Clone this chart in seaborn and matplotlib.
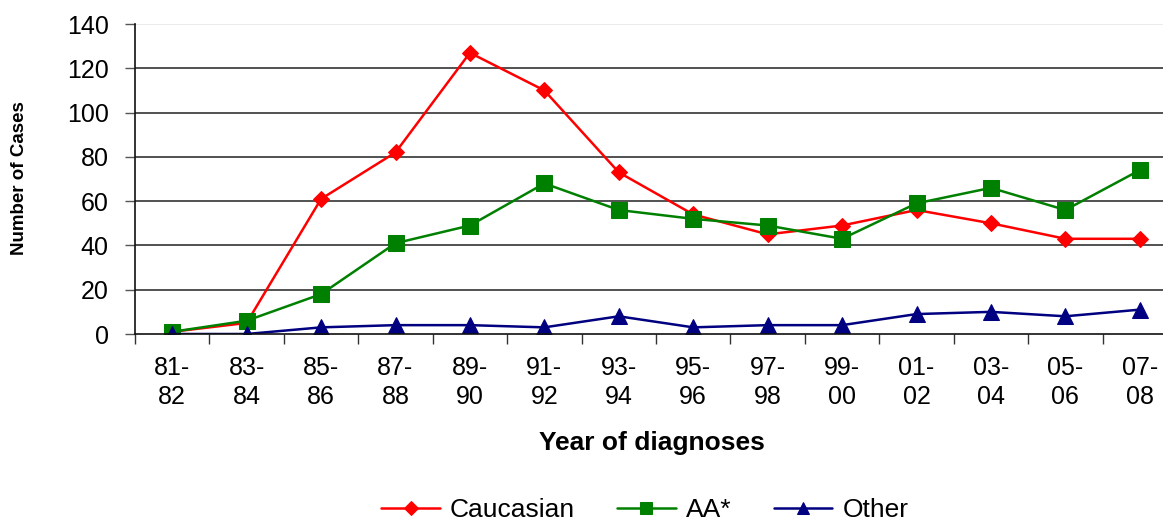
import matplotlib
matplotlib.use("Agg")
import matplotlib.pyplot as plt
import seaborn as sns
import pandas as pd

periods = ["81-\n82", "83-\n84", "85-\n86", "87-\n88", "89-\n90", "91-\n92", "93-\n94",
           "95-\n96", "97-\n98", "99-\n00", "01-\n02", "03-\n04", "05-\n06", "07-\n08"]
caucasian = [1, 5, 61, 82, 127, 110, 73, 54, 45, 49, 56, 50, 43, 43]
aa = [1, 6, 18, 41, 49, 68, 56, 52, 49, 43, 59, 66, 56, 74]
other = [0, 0, 3, 4, 4, 3, 8, 3, 4, 4, 9, 10, 8, 11]
series_names = ["Caucasian", "AA*", "Other"]

sns.set_style("white")
plt.rcParams['font.family'] = ['Liberation Sans', 'DejaVu Sans']
plt.rcParams['text.color'] = 'black'
plt.rcParams['axes.labelcolor'] = 'black'
plt.rcParams['xtick.color'] = 'black'
plt.rcParams['ytick.color'] = 'black'

fig = plt.figure(figsize=(11.63, 5.21), dpi=100)
ax = fig.add_axes([135 / 1163, (521 - 334) / 521, 1042 / 1163, 310 / 521])

x = list(range(len(periods)))
df = pd.DataFrame({"x": x * 3,
                   "y": caucasian + aa + other,
                   "s": [series_names[0]] * 14 + [series_names[1]] * 14 + [series_names[2]] * 14})

styles = {
    "Caucasian": dict(color="#FF0000", marker="D", markersize=8),
    "AA*": dict(color="#008000", marker="s", markersize=11),
    "Other": dict(color="#000080", marker="^", markersize=11),
}
for name in series_names:
    sub = df[df["s"] == name]
    st = styles[name]
    sns.lineplot(data=sub, x="x", y="y", ax=ax, color=st["color"], marker=st["marker"],
                 markersize=st["markersize"], markeredgecolor=st["color"], linewidth=1.8,
                 label=name, legend=False)

ax.set_xlim(-0.5, 13.5)
ax.set_ylim(0, 140)
ax.set_yticks(range(0, 141, 20))
ax.set_yticklabels([str(v) for v in range(0, 141, 20)], fontsize=18)
for v in range(20, 121, 20):
    ax.axhline(v, color="#333333", linewidth=1.2, zorder=0)
ax.axhline(140, color="#e8e8e8", linewidth=1.2, zorder=0)

ax.set_xticks(x)
ax.set_xticklabels(periods, fontsize=18, linespacing=1.25)
ax.set_xticks([i - 0.5 for i in range(15)], minor=True)
ax.tick_params(axis="x", which="major", length=0, pad=16, labelcolor="black")
ax.tick_params(axis="x", which="minor", length=7, width=1, color="#333333", direction="out", bottom=True)
ax.tick_params(axis="y", length=7, width=1, color="#555555", direction="out", left=True, pad=12,
               labelcolor="black")

for sp in ["top", "right"]:
    ax.spines[sp].set_visible(False)
for sp in ["left", "bottom"]:
    ax.spines[sp].set_color("#111111")
    ax.spines[sp].set_linewidth(1.2)

ax.set_xlabel("Year of diagnoses", fontsize=19, fontweight="bold", color="black")
ax.set_ylabel("Number of Cases", fontsize=13.5, fontweight="bold", color="black")
ax.xaxis.set_label_coords((652 - 135) / 1042, -(443 - 334) / 310)
ax.yaxis.set_label_coords((20 - 135) / 1042, (334 - 178) / 310)
ax.xaxis.label.set_va("center")
ax.yaxis.label.set_va("center")

handles, labels = ax.get_legend_handles_labels()
leg = fig.legend(handles, labels, loc="center", bbox_to_anchor=(645 / 1163, 1 - 510 / 521),
                 ncol=3, frameon=False, fontsize=19, handlelength=2.2, columnspacing=1.6,
                 handletextpad=0.4, markerscale=0.85)
for t in leg.get_texts():
    t.set_color("black")

fig.savefig("out.png", dpi=100)
